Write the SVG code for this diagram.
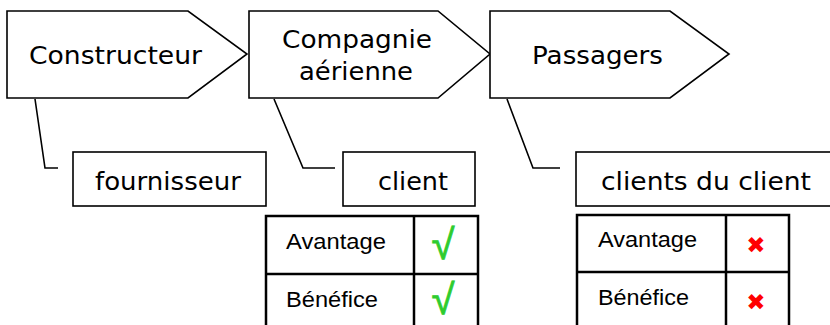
<svg xmlns="http://www.w3.org/2000/svg" width="830" height="325" viewBox="0 0 830 325">
<style>
.shape{fill:#fff;stroke:#000;stroke-width:1.6}
.tbl{fill:#fff;stroke:#000;stroke-width:2.5}
.lbl{font-family:"DejaVu Sans",Verdana,sans-serif;font-size:24px;fill:#000}
.cell{font-family:"Liberation Sans",Arial,sans-serif;font-size:22px;fill:#000}
.ok{font-family:"Liberation Sans","DejaVu Sans",sans-serif;font-size:42px;fill:#2ecc2e;stroke:#2ecc2e;stroke-width:0.8;text-anchor:middle}
.no{font-family:"DejaVu Sans",sans-serif;font-size:23px;fill:#ff0000;text-anchor:middle}
.conn{fill:none;stroke:#000;stroke-width:1.6}
</style>
<rect width="830" height="325" fill="#fff"/>
<g id="connectors">
<polyline class="conn" points="35,99 45,168 58,168"/>
<polyline class="conn" points="274,99 303,168 335,168"/>
<polyline class="conn" points="507,99 533,168 560,168"/>
</g>
<g id="constructeur">
<polygon class="shape" points="7,11 188,11 247,54 188,98 7,98"/>
<text class="lbl" x="29" y="64" textLength="173" lengthAdjust="spacingAndGlyphs">Constructeur</text>
</g>
<g id="compagnie">
<polygon class="shape" points="249,11 438,11 490,54 438,98 249,98"/>
<text class="lbl" x="282" y="48" textLength="150" lengthAdjust="spacingAndGlyphs">Compagnie</text>
<text class="lbl" x="299" y="80" textLength="114" lengthAdjust="spacingAndGlyphs">aérienne</text>
</g>
<g id="passagers">
<polygon class="shape" points="490,11 670,11 729,54 670,98 490,98"/>
<text class="lbl" x="532" y="64" textLength="131" lengthAdjust="spacingAndGlyphs">Passagers</text>
</g>
<g id="fournisseur">
<rect class="shape" x="73" y="152" width="193" height="54"/>
<text class="lbl" x="95" y="190" textLength="146" lengthAdjust="spacingAndGlyphs">fournisseur</text>
</g>
<g id="client">
<rect class="shape" x="343" y="152" width="132" height="54"/>
<text class="lbl" x="378" y="190" textLength="70" lengthAdjust="spacingAndGlyphs">client</text>
</g>
<g id="clients-du-client">
<rect class="shape" x="576" y="152" width="270" height="54"/>
<text class="lbl" x="601" y="190" textLength="210" lengthAdjust="spacingAndGlyphs">clients du client</text>
</g>
<g id="table-client">
<rect class="tbl" x="266" y="216" width="212" height="130"/>
<line class="tbl" x1="414" y1="216" x2="414" y2="330"/>
<line class="tbl" x1="266" y1="274" x2="478" y2="274"/>
<text class="cell" x="286" y="249" textLength="100" lengthAdjust="spacingAndGlyphs">Avantage</text>
<text class="cell" x="286" y="307" textLength="92" lengthAdjust="spacingAndGlyphs">Bénéfice</text>
<text class="ok" x="443" y="259">√</text>
<text class="ok" x="443" y="314">√</text>
</g>
<g id="table-clients-du-client">
<rect class="tbl" x="577" y="215" width="212" height="130"/>
<line class="tbl" x1="726" y1="215" x2="726" y2="330"/>
<line class="tbl" x1="577" y1="272" x2="789" y2="272"/>
<text class="cell" x="598" y="247" textLength="99" lengthAdjust="spacingAndGlyphs">Avantage</text>
<text class="cell" x="598" y="305" textLength="91" lengthAdjust="spacingAndGlyphs">Bénéfice</text>
<text class="no" x="756" y="253">✖</text>
<text class="no" x="756" y="310">✖</text>
</g>
</svg>
